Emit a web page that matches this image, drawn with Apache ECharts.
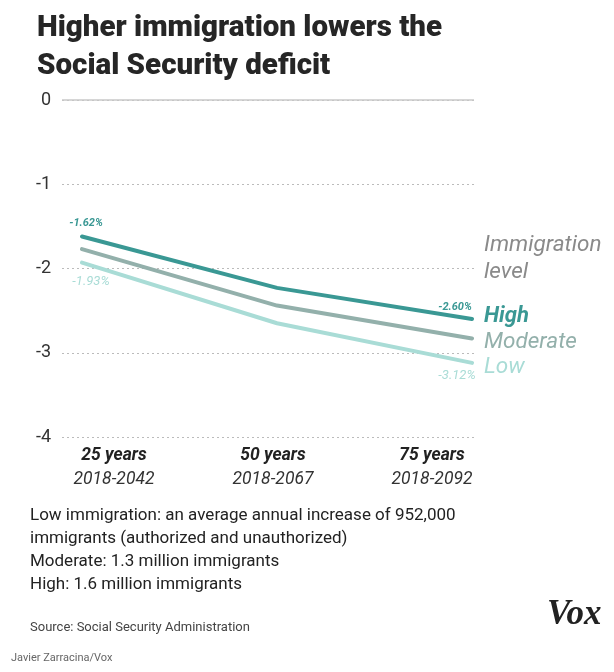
<!DOCTYPE html>
<html>
<head>
<meta charset="utf-8">
<script src="https://cdn.jsdelivr.net/npm/echarts@6/dist/echarts.min.js"></script>
<style>
html,body{margin:0;padding:0;background:#fff;}
#chart{width:614px;height:672px;}
</style>
</head>
<body>
<div id="chart"></div>
<script>
// ---- data ----
var categories = ['25 years', '50 years', '75 years'];
var periods = ['2018-2042', '2018-2067', '2018-2092'];
var highValues = [-1.62, -2.23, -2.60];
var moderateValues = [-1.77, -2.44, -2.83];
var lowValues = [-1.93, -2.65, -3.12];
var yTicks = [0, -1, -2, -3, -4];
var seriesNames = ['High', 'Moderate', 'Low'];
var noteLines = [
  'Low immigration: an average annual increase of 952,000',
  'immigrants (authorized and unauthorized)',
  'Moderate: 1.3 million immigrants',
  'High: 1.6 million immigrants'
];

var colors = { High: '#3a9894', Moderate: '#93b0ab', Low: '#a9dcd6' };

var chart = echarts.init(document.getElementById('chart'), null, { renderer: 'canvas' });

function endLabel(v, pos, offset, style) {
  return Object.assign({
    show: true, position: pos, offset: offset,
    formatter: function () { return v.toFixed(2) + '%'; },
    fontFamily: 'Roboto', fontStyle: 'italic'
  }, style);
}

function withLabels(vals, first, last) {
  return vals.map(function (v, i) {
    var item = { value: v };
    if (i === 0 && first) item.label = endLabel(v, first.pos, first.offset, first.style);
    if (i === vals.length - 1 && last) item.label = endLabel(v, last.pos, last.offset, last.style);
    return item;
  });
}

var darkLbl = { fontSize: 11, fontWeight: 'bold', color: '#3a9894' };
var lightLbl = { fontSize: 13, fontWeight: 'normal', color: '#a9dcd6' };

var option = {
  backgroundColor: '#fff',
  animation: false,
  title: {
    text: 'Higher immigration lowers the\nSocial Security deficit',
    left: 32, top: 5,
    textStyle: { fontFamily: 'Roboto', fontWeight: 900, fontSize: 29.5, lineHeight: 38, color: '#262626' }
  },
  grid: [
    { left: 62, right: 140, top: 100, bottom: 235 },
    { left: 82, right: 142, top: 100, bottom: 235 },
    { left: 114, right: 182, top: 100, bottom: 235 }
  ],
  xAxis: [
    { gridIndex: 0, type: 'value', show: false, min: 0, max: 1 },
    { gridIndex: 1, type: 'category', data: categories, boundaryGap: false, show: false },
    {
      gridIndex: 2, type: 'category', data: categories, boundaryGap: false,
      axisLine: { show: false }, axisTick: { show: false },
      axisLabel: {
        margin: 7, interval: 0,
        formatter: function (v, i) { return '{a|' + v + '}\n{b|' + periods[i] + '}'; },
        rich: {
          a: { fontFamily: 'Roboto', fontStyle: 'italic', fontWeight: 'bold', fontSize: 17.5, color: '#222', lineHeight: 24 },
          b: { fontFamily: 'Roboto', fontStyle: 'italic', fontSize: 17.5, color: '#333', lineHeight: 24 }
        }
      }
    }
  ],
  yAxis: [
    {
      gridIndex: 0, type: 'value', min: -4, max: 0, interval: 1,
      axisLine: { show: false }, axisTick: { show: false },
      axisLabel: {
        margin: 11, fontFamily: 'Roboto', fontSize: 18, color: '#333',
        formatter: function (v) { return yTicks.indexOf(v) >= 0 ? String(v) : ''; }
      },
      splitLine: {
        lineStyle: { color: '#bbbbbb', type: [2, 3], width: 1 }
      }
    },
    { gridIndex: 1, type: 'value', min: -4, max: 0, show: false },
    { gridIndex: 2, type: 'value', min: -4, max: 0, show: false }
  ],
  series: [
    {
      name: 'zeroLine', type: 'line', xAxisIndex: 0, yAxisIndex: 0,
      data: [[0, 0], [1, 0]], symbol: 'none', silent: true, clip: false,
      lineStyle: { color: '#c8c8c8', width: 1.5 }, z: 1
    },
    {
      name: 'Low', type: 'line', xAxisIndex: 1, yAxisIndex: 1,
      data: withLabels(lowValues,
        { pos: 'bottom', offset: [9, 8], style: lightLbl },
        { pos: 'bottom', offset: [-15, 1], style: lightLbl }),
      symbol: 'circle', symbolSize: 0.1, showSymbol: true,
      itemStyle: { color: colors.Low },
      lineStyle: { color: colors.Low, width: 4, cap: 'round' }, z: 3
    },
    {
      name: 'Moderate', type: 'line', xAxisIndex: 1, yAxisIndex: 1,
      data: moderateValues, symbol: 'none',
      lineStyle: { color: colors.Moderate, width: 4, cap: 'round' }, z: 4
    },
    {
      name: 'High', type: 'line', xAxisIndex: 1, yAxisIndex: 1,
      data: withLabels(highValues,
        { pos: 'top', offset: [4, -3], style: darkLbl },
        { pos: 'top', offset: [-17, -1], style: darkLbl }),
      symbol: 'circle', symbolSize: 0.1, showSymbol: true,
      itemStyle: { color: colors.High },
      lineStyle: { color: colors.High, width: 4, cap: 'round' }, z: 5
    }
  ],
  graphic: [
    { type: 'text', left: 484, top: 232, style: { text: 'Immigration\nlevel', fontFamily: 'Roboto', fontStyle: 'italic', fontSize: 22.5, lineHeight: 27, fill: '#8a8a8a' } },
    { type: 'text', left: 484, top: 305, style: { text: seriesNames[0], fontFamily: 'Roboto', fontStyle: 'italic', fontWeight: 'bold', fontSize: 22, fill: colors.High } },
    { type: 'text', left: 484, top: 331, style: { text: seriesNames[1], fontFamily: 'Roboto', fontStyle: 'italic', fontSize: 22.5, fill: colors.Moderate } },
    { type: 'text', left: 484, top: 356, style: { text: seriesNames[2], fontFamily: 'Roboto', fontStyle: 'italic', fontSize: 22.5, fill: colors.Low } },
    { type: 'text', left: 30, top: 504, style: { text: noteLines.join('\n'), fontFamily: 'Roboto', fontSize: 17, lineHeight: 23, fill: '#222' } },
    { type: 'text', left: 30, top: 621, style: { text: 'Source: Social Security Administration', fontFamily: 'Roboto', fontSize: 13, fill: '#444' } },
    { type: 'text', left: 11, top: 653, style: { text: 'Javier Zarracina/Vox', fontFamily: 'Roboto', fontSize: 11, fill: '#666' } },
    { type: 'text', left: 547, top: 597, style: { text: 'Vox', fontFamily: 'Liberation Serif', fontStyle: 'italic', fontWeight: 'bold', fontSize: 35, fill: '#222' } }
  ]
};
chart.setOption(option);
</script>
</body>
</html>
